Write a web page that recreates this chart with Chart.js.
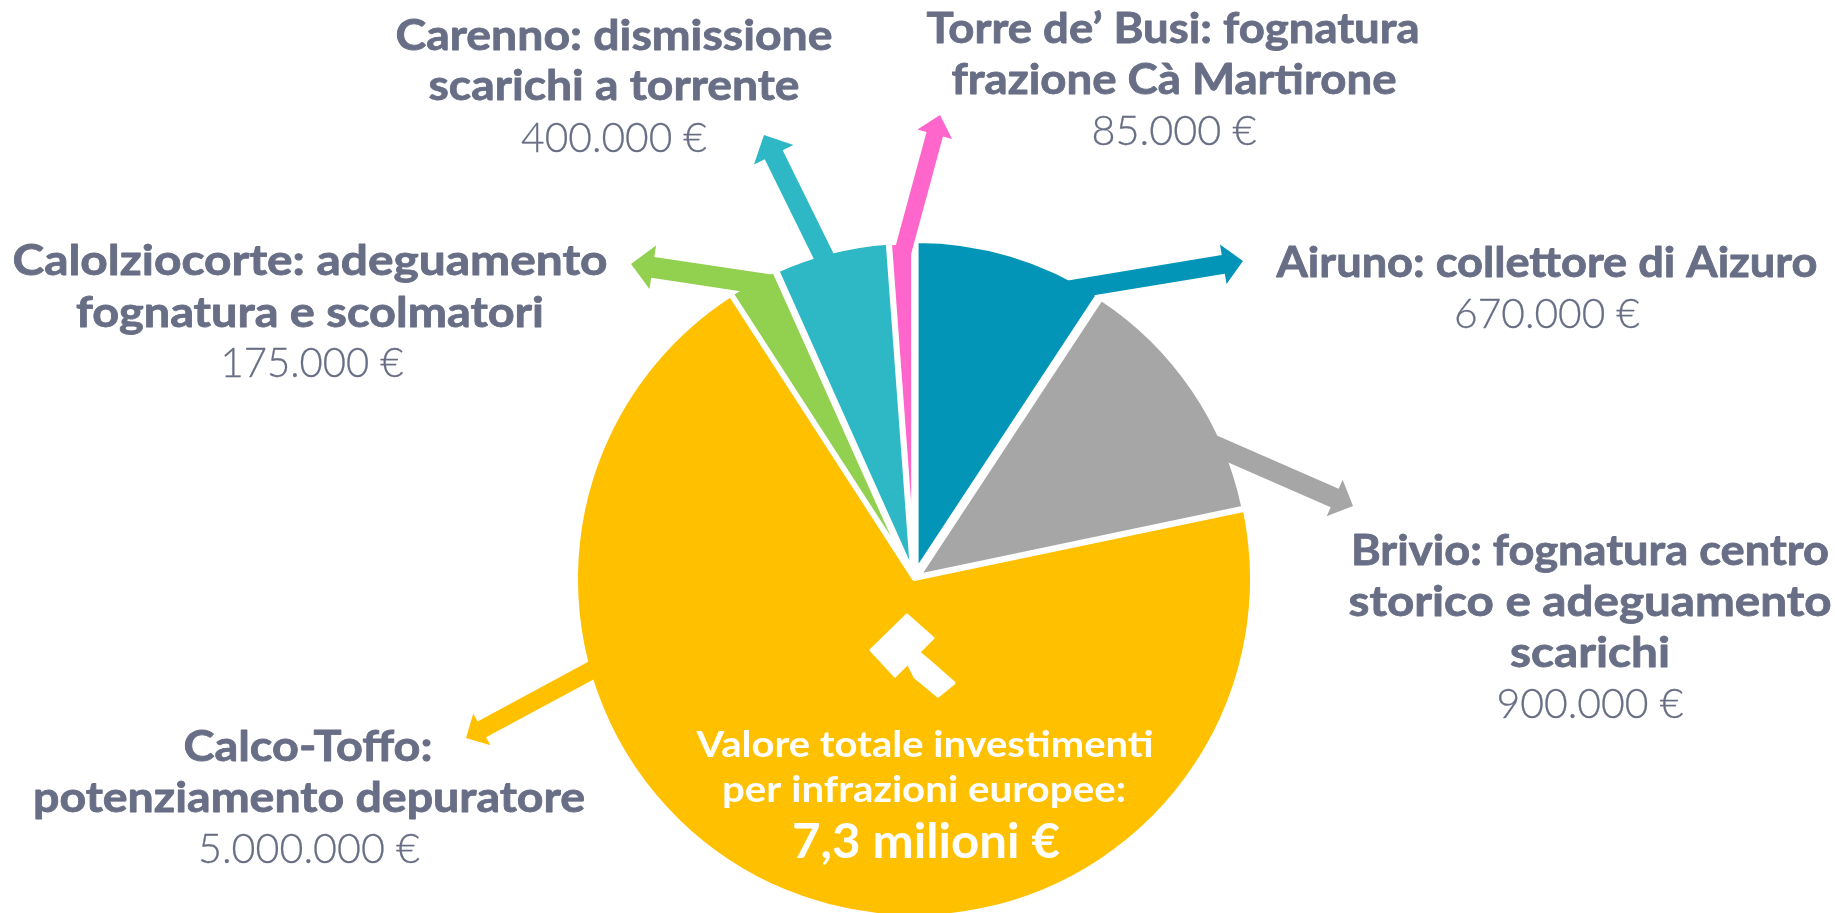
<!DOCTYPE html>
<html lang="it">
<head>
<meta charset="utf-8">
<title>Investimenti per infrazioni europee</title>
<script src="https://cdn.jsdelivr.net/npm/chart.js@4"></script>
<style>
html,body{margin:0;padding:0;background:#fff;overflow:hidden}
canvas{display:block}
</style>
</head>
<body>
<canvas id="chart" width="1835" height="913"></canvas>
<script>
// ---- data ----
const categories = ['Airuno', 'Brivio', 'Calco-Toffo', 'Calolziocorte', 'Carenno', "Torre de' Busi"];
const values = [670000, 900000, 5000000, 175000, 400000, 85000];
const titleLines = [
  ['Airuno: collettore di Aizuro'],
  ['Brivio: fognatura centro', 'storico e adeguamento', 'scarichi'],
  ['Calco-Toffo:', 'potenziamento depuratore'],
  ['Calolziocorte: adeguamento', 'fognatura e scolmatori'],
  ['Carenno: dismissione', 'scarichi a torrente'],
  ['Torre de’ Busi: fognatura', 'frazione Cà Martirone']
];
const totalLines = ['Valore totale investimenti', 'per infrazioni europee:', '7,3 milioni €'];

// ---- styles and layout ----
const colors = ['#0395B7', '#A6A6A6', '#FFC000', '#92D050', '#2EB8C5', '#FF66CC'];
const textColor = '#686E85';
const sliceRadius = [329.5, 331.5, 338, 316.5, 329.5, 314.5];
const sliceExplode = [9, 6, 0, 22, 8, 22];
const titleLayout = [
  [[1547, 277, 541]],
  [[1590, 565, 478], [1590, 616, 483], [1590, 667, 160]],
  [[308, 761, 249], [309, 812, 552]],
  [[310, 275, 595], [310, 327, 468]],
  [[614, 50, 437], [614, 100, 371]],
  [[1173, 43, 493], [1174, 94, 445]]
];
const valueLayout = [[1547, 328, 186], [1590, 718, 187], [309, 863, 222], [312, 377, 183], [614, 152, 186], [1174, 145, 165]];
const totalLayout = [[925, 757, 457, 36], [924, 802, 404, 36], [926, 858, 268, 47]];
const arrows = [
  {from: [1062, 291], to: [1243, 261], w: 19, hw: 40, hl: 20},
  {from: [1210, 443.5], to: [1353, 506], w: 20, hw: 40, hl: 20},
  {from: [605, 663], to: [466, 738], w: 18, hw: 36, hl: 18},
  {from: [770, 285], to: [631, 264], w: 21, hw: 44, hl: 22},
  {from: [828, 265], to: [764, 135], w: 20, hw: 44, hl: 22},
  {from: [902, 255], to: [940, 115], w: 17, hw: 36, hl: 20}
];
const gavelHead = [[907, 615], [933, 638], [895, 676], [871, 650]];
const gavelHandle = [[918, 652], [929, 661], [954, 683], [938, 696], [915, 677], [908, 663]];

function fitText(ctx, text, cx, base, width, font, color, thicken) {
  ctx.save();
  ctx.font = font;
  ctx.fillStyle = color;
  ctx.strokeStyle = color;
  ctx.textAlign = 'center';
  ctx.textBaseline = 'alphabetic';
  const m = ctx.measureText(text).width;
  ctx.translate(cx, base);
  ctx.scale(width / m, 1);
  ctx.fillText(text, 0, 0);
  if (thicken) {
    ctx.lineWidth = thicken;
    ctx.lineJoin = 'round';
    ctx.strokeText(text, 0, 0);
  }
  ctx.restore();
}
function arrow(ctx, a, color) {
  const dx = a.to[0] - a.from[0], dy = a.to[1] - a.from[1];
  const L = Math.hypot(dx, dy), ux = dx / L, uy = dy / L, px = -uy, py = ux;
  const bx = a.to[0] - ux * a.hl, by = a.to[1] - uy * a.hl;
  ctx.beginPath();
  ctx.moveTo(a.from[0] + px * a.w / 2, a.from[1] + py * a.w / 2);
  ctx.lineTo(bx + px * a.w / 2, by + py * a.w / 2);
  ctx.lineTo(bx + px * a.hw / 2, by + py * a.hw / 2);
  ctx.lineTo(a.to[0], a.to[1]);
  ctx.lineTo(bx - px * a.hw / 2, by - py * a.hw / 2);
  ctx.lineTo(bx - px * a.w / 2, by - py * a.w / 2);
  ctx.lineTo(a.from[0] - px * a.w / 2, a.from[1] - py * a.w / 2);
  ctx.closePath();
  ctx.fillStyle = color;
  ctx.fill();
}
function poly(ctx, pts) {
  ctx.beginPath();
  pts.forEach((p, i) => i ? ctx.lineTo(p[0], p[1]) : ctx.moveTo(p[0], p[1]));
  ctx.closePath();
  ctx.fillStyle = '#fff';
  ctx.strokeStyle = '#fff';
  ctx.lineWidth = 3;
  ctx.lineJoin = 'round';
  ctx.fill();
  ctx.stroke();
}

const explodedPie = {
  id: 'explodedPie',
  afterDatasetsUpdate(chart) {
    chart.getDatasetMeta(0).data.forEach((arc, i) => {
      const mid = (arc.startAngle + arc.endAngle) / 2;
      arc.x += Math.cos(mid) * sliceExplode[i];
      arc.y += Math.sin(mid) * sliceExplode[i];
      arc.outerRadius = sliceRadius[i];
    });
  },
  afterDatasetsDraw(chart) {
    const ctx = chart.ctx;
    arrows.forEach((a, i) => arrow(ctx, a, colors[i]));
    poly(ctx, gavelHandle);
    poly(ctx, gavelHead);
    titleLines.forEach((lines, i) => {
      lines.forEach((t, j) => {
        const l = titleLayout[i][j];
        fitText(ctx, t, l[0], l[1], l[2], 'bold 42px Lato', textColor, 0.8);
      });
      const v = valueLayout[i];
      const s = values[i].toLocaleString('de-DE') + ' €';
      fitText(ctx, s, v[0], v[1], v[2], '300 42px Lato', textColor, 0.3);
    });
    totalLines.forEach((t, i) => {
      const l = totalLayout[i];
      fitText(ctx, t, l[0], l[1], l[2], 'bold ' + l[3] + 'px Lato', '#fff', 0);
    });
  }
};

new Chart(document.getElementById('chart'), {
  type: 'pie',
  data: {
    labels: categories,
    datasets: [{
      data: values,
      backgroundColor: colors,
      borderColor: '#fff',
      borderWidth: 4,
      hoverOffset: 0
    }]
  },
  options: {
    responsive: false,
    animation: false,
    rotation: 0,
    layout: {padding: {top: 245, left: 0, right: 7, bottom: 0}},
    plugins: {legend: {display: false}, tooltip: {enabled: false}}
  },
  plugins: [explodedPie]
});
</script>
</body>
</html>
